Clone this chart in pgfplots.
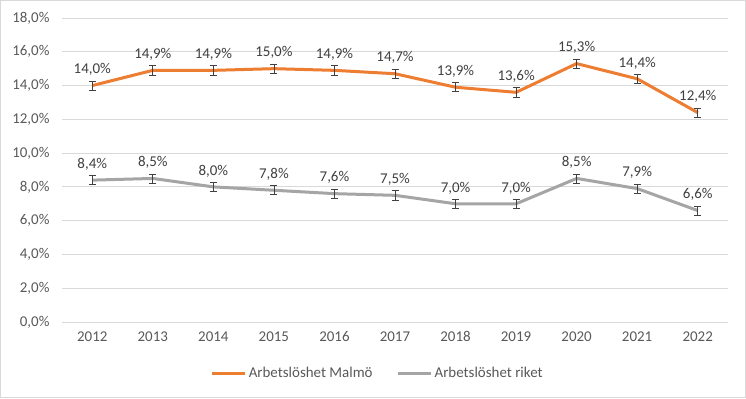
\documentclass[border=0pt]{standalone}
\usepackage{pgfplots}
\pgfplotsset{compat=1.18}
\usepackage{fontspec}
\setmainfont{Carlito}
\definecolor{orangeS}{HTML}{ED7D31}
\definecolor{grayS}{HTML}{A5A5A5}
\definecolor{gridc}{HTML}{D9D9D9}
\definecolor{txt}{HTML}{595959}
\definecolor{lbl}{HTML}{404040}
\definecolor{errc}{HTML}{404040}
\begin{document}
\begin{tikzpicture}[x=1bp,y=1bp]
\draw[gridc,line width=0.8bp,fill=white] (0.5,0.5) rectangle (745.5,397.5);
\useasboundingbox (0,0) rectangle (746,398);
\begin{axis}[
  at={(62bp,76bp)}, anchor=origin,
  scale only axis, width=666bp, height=304bp,
  xmin=2011.5, xmax=2022.5, ymin=0, ymax=18,
  xtick={2012,...,2022}, ytick={0,2,...,18},
  /pgf/number format/assume math mode=true,
  xticklabel style={/pgf/number format/1000 sep={}},
  yticklabel={\pgfmathprintnumber[fixed,fixed zerofill,precision=1,use comma]{\tick}\%},
  ymajorgrids, grid style={gridc, line width=0.8bp},
  axis line style={draw=none}, major tick length=0,
  tick label style={font=\fontsize{15}{17}\selectfont, text=txt},
  yticklabel style={xshift=-9bp},
  xticklabel style={yshift=-6bp},
  clip=false,
  nodes near coords={\pgfmathprintnumber[fixed,fixed zerofill,precision=1,use comma]{\pgfplotspointmeta}\%},
  every node near coord/.append style={font=\fontsize{15}{17}\selectfont, text=lbl, yshift=5bp},
  legend style={at={(0.474,-0.168)}, anchor=center, draw=none, fill=none,
    legend columns=2, font=\fontsize{15}{17}\selectfont, text=txt,
    /tikz/every even column/.append style={column sep=22bp},
    /tikz/every odd column/.append style={column sep=0bp},
    nodes={inner xsep=2bp}},
  legend image code/.code={\draw[#1] (0bp,0bp) -- (33bp,0bp);},
  legend cell align=left,
]
\addplot[orangeS, line width=3bp, mark=none,
  error bars/.cd, y dir=both, y fixed=0.27,
  error bar style={errc, line width=0.7bp},
  error mark options={rotate=90, mark size=3.5bp, errc, line width=0.7bp}]
coordinates {(2012,14.0) (2013,14.9) (2014,14.9) (2015,15.0) (2016,14.9) (2017,14.7) (2018,13.9) (2019,13.6) (2020,15.3) (2021,14.4) (2022,12.4)};
\addlegendentry{Arbetslöshet Malmö}
\addplot[grayS, line width=3bp, mark=none,
  error bars/.cd, y dir=both, y fixed=0.27,
  error bar style={errc, line width=0.7bp},
  error mark options={rotate=90, mark size=3.5bp, errc, line width=0.7bp}]
coordinates {(2012,8.4) (2013,8.5) (2014,8.0) (2015,7.8) (2016,7.6) (2017,7.5) (2018,7.0) (2019,7.0) (2020,8.5) (2021,7.9) (2022,6.6)};
\addlegendentry{Arbetslöshet riket}
\end{axis}
\end{tikzpicture}
\end{document}
